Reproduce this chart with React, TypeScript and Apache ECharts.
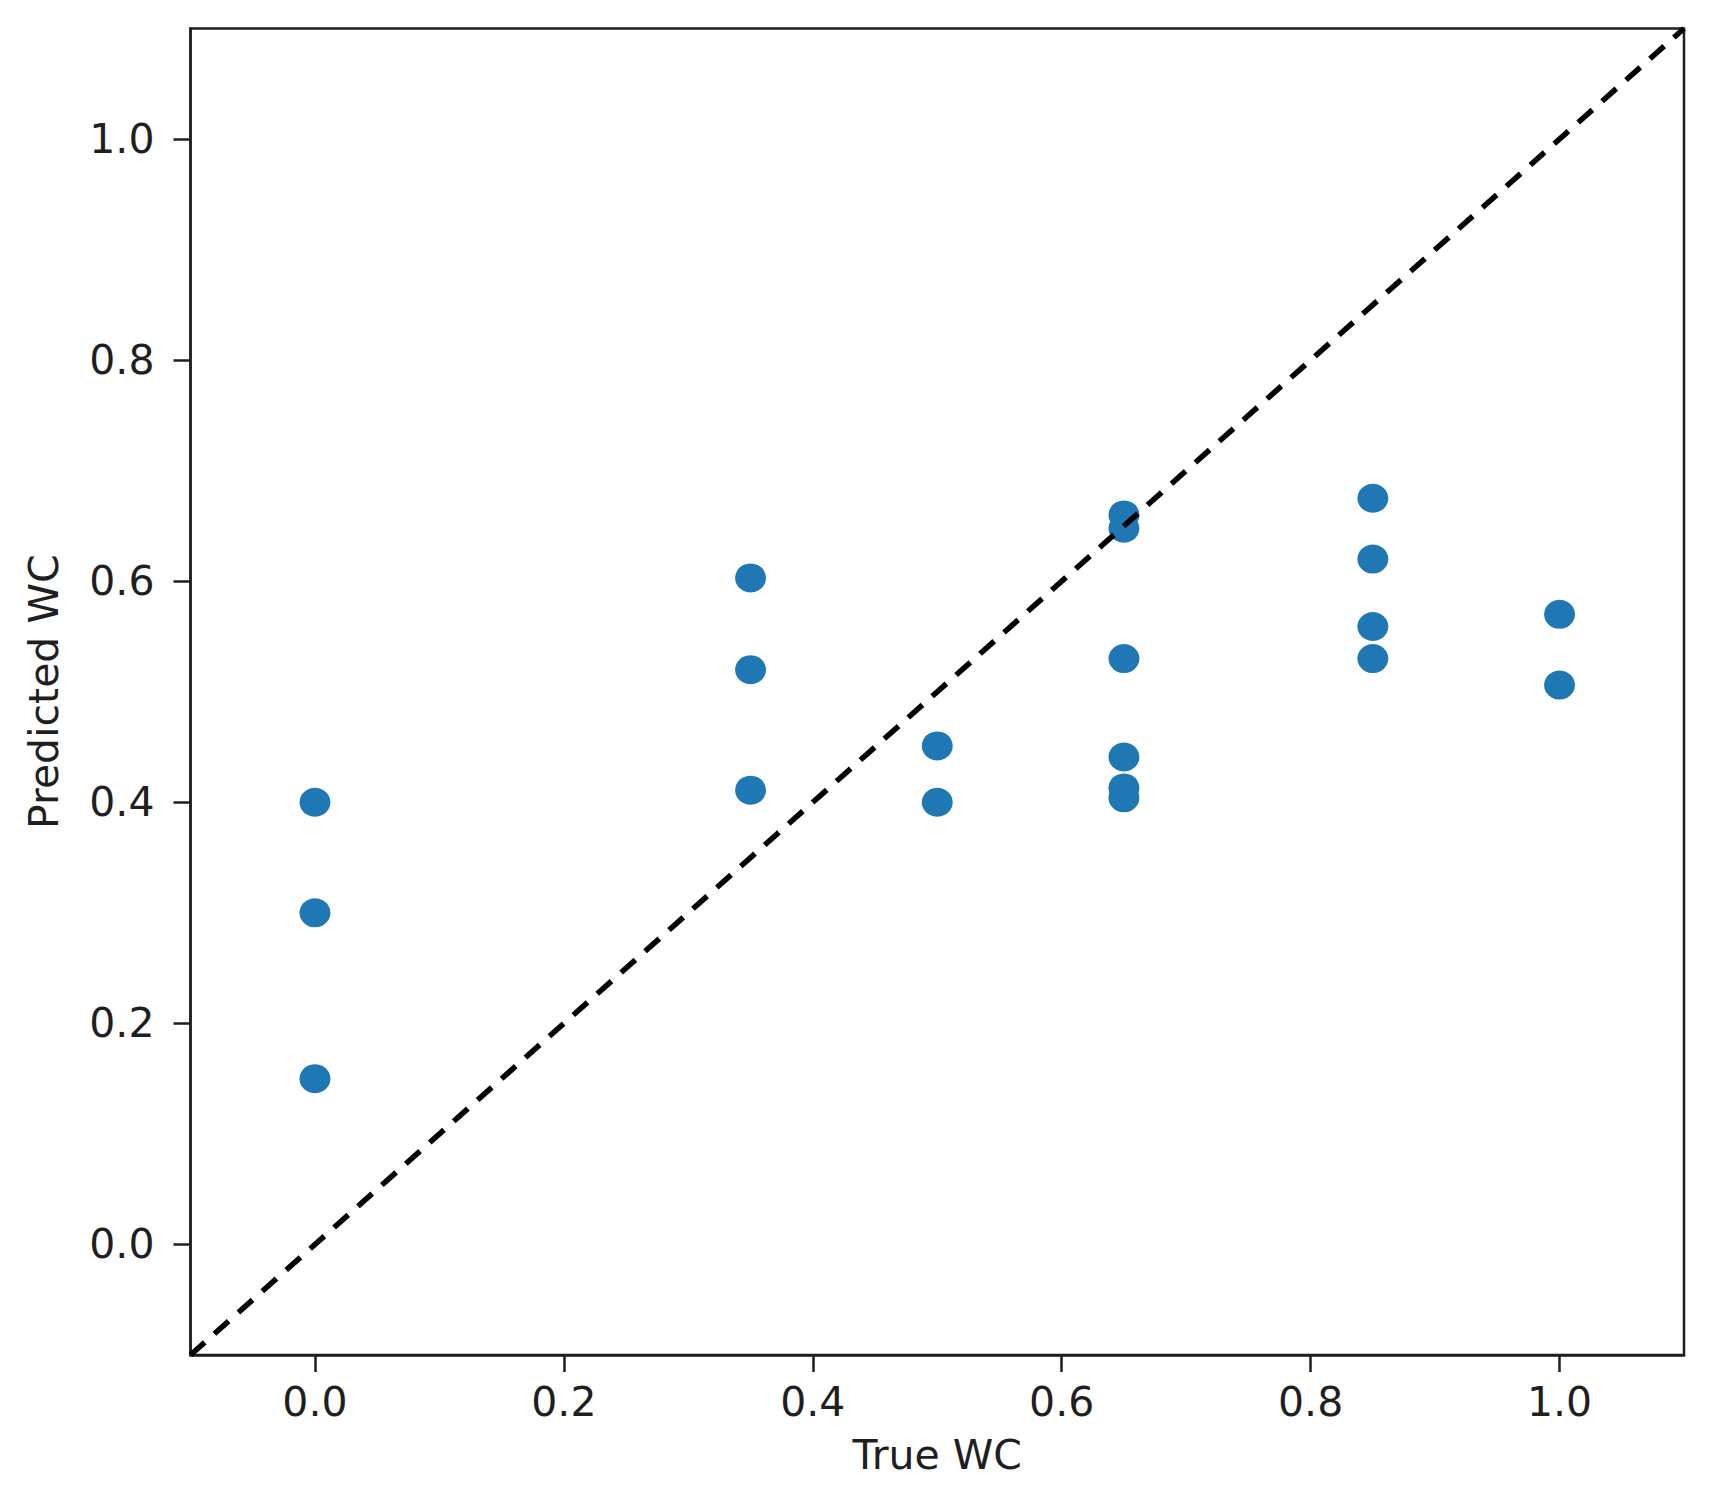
import React, { useEffect, useRef } from "react";
import * as echarts from "echarts";

const trueWC = [0, 0, 0, 0.35, 0.35, 0.35, 0.5, 0.5, 0.65, 0.65, 0.65, 0.65, 0.65, 0.65, 0.85, 0.85, 0.85, 0.85, 1.0, 1.0];
const predWC = [0.4, 0.3, 0.15, 0.603, 0.52, 0.411, 0.451, 0.4, 0.66, 0.648, 0.53, 0.441, 0.413, 0.404, 0.675, 0.62, 0.559, 0.53, 0.57, 0.506];
const tickValues = [0, 0.2, 0.4, 0.6, 0.8, 1.0];
const identityLine = [-0.1, 1.1];
const xLabel = "True WC";
const yLabel = "Predicted WC";

const FONT = "DejaVu Sans";
const INK = "#1f1f1f";

export default function App() {
  const ref = useRef<HTMLDivElement>(null);
  useEffect(() => {
    if (!ref.current) return;
    const chart = echarts.init(ref.current, null, { renderer: "svg" });
    const axisCommon = {
      type: "value",
      min: -0.1,
      max: 1.1,
      splitLine: { show: false },
      axisLine: { show: true, onZero: false, lineStyle: { color: INK, width: 2.5 } },
      axisTick: { show: true, inside: false, length: 17, lineStyle: { color: INK, width: 2.5 }, customValues: tickValues },
      nameTextStyle: { fontFamily: FONT, fontSize: 41, color: INK },
      nameLocation: "middle",
    };
    chart.setOption({
      animation: false,
      backgroundColor: "#ffffff",
      grid: {
        left: 190.5,
        right: 26,
        top: 28.5,
        bottom: 151,
        show: true,
        borderColor: INK,
        borderWidth: 2.5,
        containLabel: false,
      },
      xAxis: {
        ...axisCommon,
        name: xLabel,
        nameGap: 79,
        axisLabel: {
          fontFamily: FONT,
          fontSize: 41,
          color: INK,
          margin: 26,
          customValues: tickValues,
          formatter: (v: number) => v.toFixed(1),
        },
      },
      yAxis: {
        ...axisCommon,
        name: yLabel,
        nameGap: 126,
        nameRotate: 90,
        axisLabel: {
          fontFamily: FONT,
          fontSize: 41,
          color: INK,
          margin: 36,
          customValues: tickValues,
          formatter: (v: number) => v.toFixed(1),
        },
      },
      series: [
        {
          type: "scatter",
          data: trueWC.map((x, i) => [x, predWC[i]]),
          symbol: "circle",
          symbolSize: [31, 29],
          itemStyle: { color: "#1f77b4", opacity: 1 },
          z: 2,
        },
        {
          type: "line",
          data: identityLine.map((v) => [v, v]),
          symbol: "none",
          lineStyle: { color: "#000000", width: 5.5, type: [19, 13] },
          z: 3,
          silent: true,
        },
      ],
    });
    return () => chart.dispose();
  }, []);
  return (
    <div
      ref={ref}
      style={{ position: "absolute", left: 0, top: 0, width: 1710, height: 1506, background: "#fff" }}
    />
  );
}
